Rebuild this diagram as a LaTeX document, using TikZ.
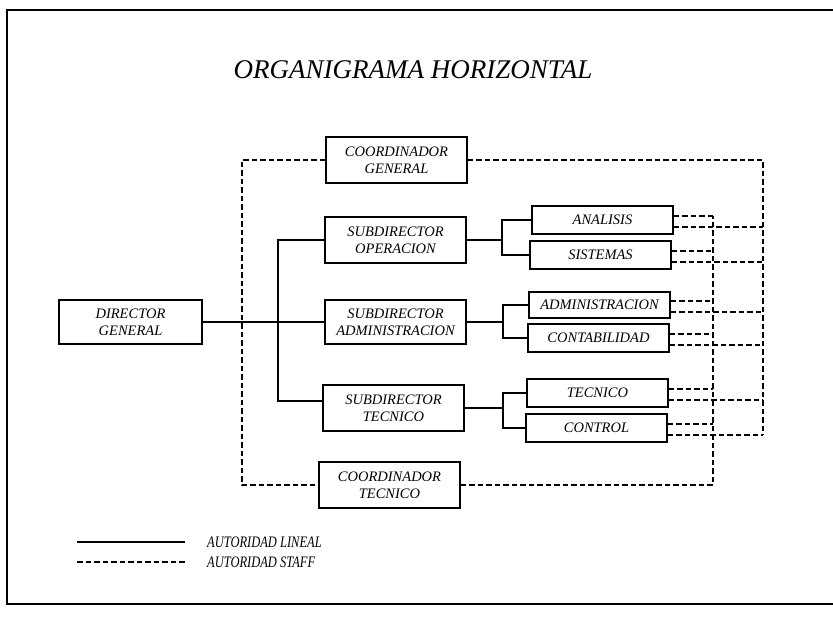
\documentclass[tikz,border=0pt]{standalone}
\usepackage{fontspec}
\setmainfont{Liberation Serif}
\usetikzlibrary{calc}
\begin{document}
\begin{tikzpicture}[x=1pt,y=-1pt,
  unit/.style={draw,line width=1.5pt,inner sep=0pt,align=center,
    minimum width=141pt,font=\fontsize{14.5}{17}\selectfont\itshape},
  tall/.style={minimum height=46pt},
  flat/.style={minimum height=28pt},
  lineal/.style={line width=2.6pt},
  staff/.style={line width=1.5pt,dash pattern=on 5.5pt off 3pt},
  frameline/.style={line width=1.8pt},
  legendtext/.style={anchor=west,inner sep=0pt,font=\fontsize{16}{16}\selectfont\itshape}]

\useasboundingbox (0,0) rectangle (833,617);

% page frame
\draw[frameline] (833,10) -- (7,10) -- (7,604) -- (833,604);

% title
\node (title) at (413,70) {\fontsize{27}{30}\selectfont\itshape ORGANIGRAMA HORIZONTAL};

% units
\node[unit,minimum width=143pt,minimum height=44pt] (dg) at (130.5,322) {DIRECTOR\\GENERAL};
\node[unit,tall] (cg) at (396.5,160) {COORDINADOR\\GENERAL};
\node[unit,tall] (so) at (395.5,240) {SUBDIRECTOR\\OPERACION};
\node[unit,minimum height=44pt] (sa) at (395.5,322) {SUBDIRECTOR\\ADMINISTRACION};
\node[unit,tall] (st) at (393.5,408) {SUBDIRECTOR\\TECNICO};
\node[unit,tall] (ct) at (389.5,485) {COORDINADOR\\TECNICO};

\node[unit,flat] (an) at (602.5,220) {ANALISIS};
\node[unit,flat] (si) at (600.5,255) {SISTEMAS};
\node[unit,flat,minimum height=26pt] (ad) at (599.5,305) {ADMINISTRACION};
\node[unit,flat] (co) at (598.5,338) {CONTABILIDAD};
\node[unit,flat] (te) at (597.5,393) {TECNICO};
\node[unit,flat] (cl) at (596.5,428) {CONTROL};

% reference columns
\coordinate (trunk) at (278,0);
\coordinate (b1) at (502,0);
\coordinate (b2) at (503,0);
\coordinate (lx) at (242,300);
\coordinate (ix) at (713,0);
\coordinate (ox) at (763,0);

% line authority
\coordinate (stin) at ([yshift=7pt]st.west);
\draw[lineal] (dg.east) -- (sa.west);
\draw[lineal] (so.west) -| (stin -| trunk) -- (stin);

\draw[lineal] (so.east) -- (so.east -| b1);
\draw[lineal] (an.west) -| (b1 |- si.west) -- (si.west);

\draw[lineal] (sa.east) -- (sa.east -| b2);
\draw[lineal] (ad.west) -| (b2 |- co.west) -- (co.west);

\draw[lineal] (st.east) -- (st.east -| b2);
\draw[lineal] (te.west) -| (b2 |- cl.west) -- (cl.west);

% staff authority
\foreach \n in {an,si,ad,co,te,cl}{
  \coordinate (\n-u) at ([yshift=4pt]\n.east);
  \coordinate (\n-l) at ([yshift=-7pt]\n.east);
  \draw[staff] (\n-u) -- (\n-u -| ix);
  \draw[staff] (\n-l) -- (\n-l -| ox);
}
\draw[staff] (cg.west) -| (lx) |- (ct.west);
\draw[staff] (ct.east) -| (an-u -| ix);
\draw[staff] (cg.east) -| (cl-l -| ox);

% legend
\coordinate (la1) at (77,542);
\coordinate (lb1) at (185,542);
\coordinate (la2) at (77,562);
\coordinate (lb2) at (185,562);
\draw[lineal] (la1) -- (lb1);
\draw[staff] (la2) -- (lb2);
\node[legendtext] (lt1) at (207,542) {\scalebox{0.78}[1]{AUTORIDAD LINEAL}};
\node[legendtext] (lt2) at (207,562) {\scalebox{0.78}[1]{AUTORIDAD STAFF}};

\end{tikzpicture}
\end{document}
